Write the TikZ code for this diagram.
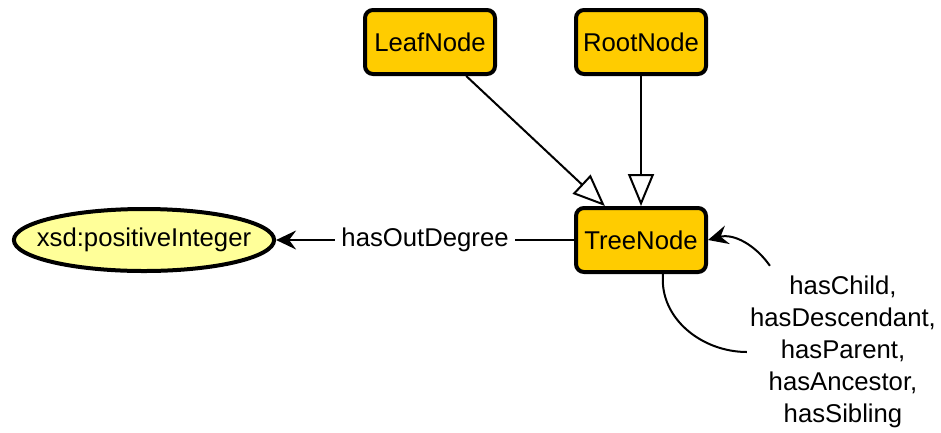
\documentclass[tikz,border=0pt]{standalone}
\usepackage{fontspec}
\setmainfont{Liberation Sans}
\usetikzlibrary{arrows.meta,calc,positioning,shapes.geometric}
\definecolor{treegold}{RGB}{255,204,0}
\definecolor{xsdyellow}{RGB}{255,255,153}

\begin{document}
\begin{tikzpicture}[x=1pt, y=1pt,
    txt/.style={font=\fontsize{25.7}{32}\selectfont},
    cls/.style={txt, draw, line width=4pt, rounded corners=8pt, fill=treegold, minimum width=130pt, minimum height=64pt, inner sep=0pt},
    dtype/.style={txt, ellipse, draw, line width=4pt, fill=xsdyellow, minimum height=62pt, inner sep=0pt},
    sub/.style={line width=2pt, -{Triangle[open, length=32pt, width=26pt]}},
    prop/.style={line width=2pt, -{Stealth[length=20pt, width=19pt, inset=7pt]}}
  ]
  \useasboundingbox (0,0) rectangle (941,-432);

  \node[cls] (leaf) at (430,-42) {LeafNode};
  \node[cls] (root) at (641,-42) {RootNode};
  \node[cls] (tree) at (641,-240) {TreeNode};
  \node[dtype] (xsd) at (144,-240) {\makebox[184pt]{xsd:positiveInteger}};

  % subclass links
  \draw[sub] (leaf) -- (tree);
  \draw[sub] (root) -- (tree);

  % properties
  \draw[prop] (tree.west) -- node[txt, fill=white, inner sep=6pt] (outdeg) {hasOutDegree} (xsd.east);

  \node[txt, align=center, inner sep=3pt] (rel) at (843,-352) {hasChild,\\hasDescendant,\\hasParent,\\hasAncestor,\\hasSibling};
  \draw[line width=2pt] ([xshift=22pt]tree.south) to[out=-95, in=180] (rel.west);
  \draw[prop] ([xshift=23pt, yshift=7pt]rel.north west) to[out=125, in=15] (tree.east);
\end{tikzpicture}
\end{document}
